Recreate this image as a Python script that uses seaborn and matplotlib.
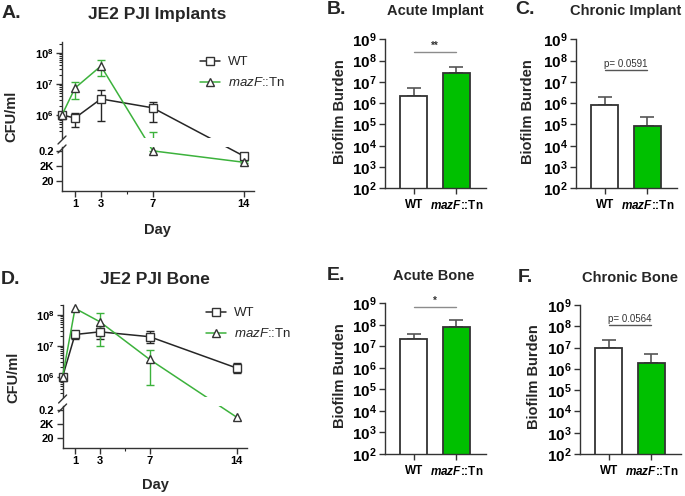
import numpy as np
import pandas as pd
import matplotlib
matplotlib.use("Agg")
import matplotlib.pyplot as plt
import seaborn as sns
from matplotlib.lines import Line2D
from matplotlib.transforms import Bbox, TransformedBbox

#values, CFU/ml
days = [0, 1, 3, 7, 14]
strains = ["WT", "mazF::Tn"]

implant_wt = [1.0e6, 8.0e5, 3.3e6, 1.7e6, 4.3e4]
implant_wt_low = [1.0e6, 4.0e5, 6.4e5, 6.0e5, 3.0e4]
implant_wt_high = [1.0e6, 1.15e6, 6.4e6, 2.6e6, 6.0e4]
implant_maz = [1.0e6, 7.4e6, 3.8e7, 2.0e5, 6.3e3]
implant_maz_low = [1.0e6, 3.3e6, 1.8e7, 2.0e5, 5.0e3]
implant_maz_high = [1.0e6, 1.15e7, 5.9e7, 2.9e5, 8.0e3]

bone_wt = [1.0e6, 2.3e7, 2.8e7, 1.95e7, 1.9e6]
bone_wt_low = [1.0e6, 1.6e7, 1.6e7, 1.2e7, 1.3e6]
bone_wt_high = [1.0e6, 2.8e7, 4.4e7, 2.9e7, 2.8e6]
bone_maz = [1.0e6, 1.6e8, 5.9e7, 3.6e6, 1.9e4]
bone_maz_low = [1.0e6, 1.6e8, 9.8e6, 5.4e5, 1.9e4]
bone_maz_high = [1.0e6, 1.6e8, 1.1e8, 7.2e6, 1.9e4]

#biofilm burden bars: mean and top of error bar
acute_implant = [2.2e6, 2.5e7]
acute_implant_err = [5.0e6, 5.1e7]
chronic_implant = [8.1e5, 8.7e4]
chronic_implant_err = [1.85e6, 2.3e5]
acute_bone = [2.2e7, 8.3e7]
acute_bone_err = [3.7e7, 1.6e8]
chronic_bone = [9.8e6, 1.9e6]
chronic_bone_err = [2.2e7, 4.9e6]

sns.set_theme(style="ticks")
plt.rcParams["font.family"] = ["Liberation Sans", "DejaVu Sans"]
plt.rcParams["mathtext.fontset"] = "custom"
plt.rcParams["mathtext.rm"] = "Liberation Sans"
plt.rcParams["mathtext.bf"] = "Liberation Sans:bold"
plt.rcParams["mathtext.it"] = "Liberation Sans:italic"
plt.rcParams["mathtext.bfit"] = "Liberation Sans:italic:bold"
plt.rcParams["axes.linewidth"] = 1.0
plt.rcParams["axes.edgecolor"] = "#333333"

black = "#262626"
green = "#3cb23c"
bar_green = "#00c000"
W, H = 685, 496

fig = plt.figure(figsize=(W / 100, H / 100), dpi=100)

def fx(x):
    return x / W

def fy(y):
    return 1 - y / H

def box(left, top, right, bottom):
    return [left / W, 1 - bottom / H, (right - left) / W, (bottom - top) / H]

def sup(e):
    return r"$\mathbf{10^{%d}}$" % e

#piecewise log scale so both halves of the broken axis line up like graphpad
def broken_log(knots):
    lv = np.array([k[0] for k in knots], float)
    sv = np.array([k[1] for k in knots], float)
    def fwd(v):
        v = np.asarray(v, float)
        return np.interp(np.log10(np.clip(v, 1e-6, None)), lv, sv)
    def inv(s):
        return 10 ** np.interp(np.asarray(s, float), sv, lv)
    return fwd, inv

def break_mark(x, y):
    fig.add_artist(Line2D([fx(x - 4), fx(x + 4)], [fy(y + 4), fy(y - 4)],
                          transform=fig.transFigure, color="#333333", lw=1))

def timecourse(lay, knots, wt, wt_lo, wt_hi, maz, maz_lo, maz_hi):
    left, right, top, ub, lt, bottom = lay
    fwd, inv = broken_log(knots)
    ax_up = fig.add_axes(box(left, top, right, ub))
    ax_lo = fig.add_axes(box(left, lt, right, bottom))
    df = pd.DataFrame({"day": days * 2, "cfu": wt + maz,
                       "strain": ["WT"] * len(days) + ["mazF::Tn"] * len(days)})
    for ax, lims, ext in [(ax_up, (inv(-ub), inv(-top)), 1.08), (ax_lo, (inv(-bottom), inv(-lt)), 1.0)]:
        for vals, lo, hi, col in [(wt, wt_lo, wt_hi, black), (maz, maz_lo, maz_hi, green)]:
            vals, lo, hi = np.array(vals), np.array(lo), np.array(hi)
            m = hi > lo
            ax.errorbar(np.array(days)[m], vals[m], yerr=[vals[m] - lo[m], hi[m] - vals[m]],
                        fmt="none", ecolor=col, elinewidth=1, capsize=3, capthick=1, zorder=2)
        sns.lineplot(data=df, x="day", y="cfu", hue="strain", style="strain", markers=["s", "^"],
                     dashes=False, palette=[black, green], estimator=None, errorbar=None,
                     legend=False, markersize=6, markerfacecolor="white", markeredgecolor="#333333",
                     markeredgewidth=1, linewidth=1.1, ax=ax, zorder=3)
        ax.set_yscale("function", functions=(fwd, inv))
        ax.set_ylim(*lims)
        ax.set_xlim(0, 14.8)
        clip = TransformedBbox(Bbox([[-0.06, 0], [1.06, ext]]), ax.transAxes)
        for art in ax.lines + ax.collections:
            art.set_clip_path(None)
            art.set_clip_box(clip)
        ax.set_xlabel("")
        ax.set_ylabel("")
        ax.spines[["top", "right"]].set_visible(False)
        ax.tick_params(labelsize=8, length=4, width=1, pad=2, colors="#333333", labelcolor="black")
        ax.tick_params(which="minor", length=2, width=0.8)
    ax_up.spines["bottom"].set_visible(False)
    ax_up.set_xticks([])
    ax_up.set_yticks([1e6, 1e7, 1e8], labels=[sup(6), sup(7), sup(8)])
    lo_lim, hi_lim = ax_up.get_ylim()
    ax_up.set_yticks([k * 10 ** e for e in range(5, 9) for k in range(2, 10)
                      if lo_lim < k * 10 ** e < hi_lim], minor=True)
    ax_lo.set_yticks([20, 2e3, 2e5], labels=["20", "2K", "0.2"])
    ax_lo.set_xticks([1, 3, 7, 14], labels=["1", "3", "7", "14"])
    ax_lo.set_xticks([5], minor=True)
    for lab in ax_lo.get_xticklabels() + ax_lo.get_yticklabels():
        lab.set_fontweight("bold")
    break_mark(left, ub + 2)
    break_mark(left, lt + 2)
    return ax_up, ax_lo

def bar_panel(lay, vals, errs, note, note_y, stars):
    ax = fig.add_axes(box(*lay))
    df = pd.DataFrame({"strain": strains, "cfu": vals})
    sns.barplot(data=df, x="strain", y="cfu", hue="strain", palette=["white", bar_green], saturation=1,
                edgecolor="#333333", linewidth=1.3, width=0.63, legend=False, ax=ax, zorder=2)
    ax.errorbar([0, 1], vals, yerr=[np.zeros(2), np.array(errs) - np.array(vals)], fmt="none",
                ecolor="#555555", elinewidth=1.2, capsize=5, capthick=1.2, zorder=1)
    ax.set_yscale("log")
    ax.set_ylim(1e2, 1e9)
    ax.set_xlim(-0.68, 1.7)
    ax.set_yticks([10 ** e for e in range(2, 10)], labels=[sup(e) for e in range(2, 10)])
    ax.minorticks_off()
    ax.set_xticks([0, 1], labels=["WT", r"$\mathbfit{mazF}$::Tn"])
    for lab in ax.get_xticklabels():
        lab.set_fontweight("bold")
    ax.tick_params(axis="y", labelsize=11, length=4, width=1, pad=2, colors="#333333", labelcolor="black")
    ax.tick_params(axis="x", labelsize=8.5, length=4, width=1, pad=4, colors="#333333", labelcolor="black")
    ax.set_xlabel("")
    ax.set_ylabel("")
    ax.spines[["top", "right"]].set_visible(False)
    ax.plot([0, 1], [note_y, note_y], color="#8c8c8c" if stars else "#555555", lw=1, zorder=3)
    if stars:
        ax.text(0.5, note_y * 1.15, note, ha="center", va="bottom", fontsize=7, fontweight="bold", color="#333333")
    else:
        ax.text(0.5, note_y * 1.12, note, ha="center", va="bottom", fontsize=7, color="#333333")
    return ax

timecourse((62, 254, 42, 138, 147, 191),
           [(-3, -213.25), (5.3, -151), (5.45, -132.05), (10, 9)],
           implant_wt, implant_wt_low, implant_wt_high, implant_maz, implant_maz_low, implant_maz_high)
timecourse((62.6, 246.7, 305, 397, 406, 448),
           [(-3, -468.9), (5.3, -410), (5.4, -395.3), (10, -252.7)],
           bone_wt, bone_wt_low, bone_wt_high, bone_maz, bone_maz_low, bone_maz_high)

bar_panel((385, 39.3, 486, 188.3), acute_implant, acute_implant_err, "**", 2.6e8, True)
bar_panel((576, 39.3, 677, 188.3), chronic_implant, chronic_implant_err, "p= 0.0591", 3.6e7, False)
bar_panel((385, 303.3, 486, 454), acute_bone, acute_bone_err, "*", 6.6e8, True)
bar_panel((580, 305, 681, 454), chronic_bone, chronic_bone_err, "p= 0.0564", 1.15e8, False)

#legends
for lx, ly in [(200, 56), (206, 307)]:
    handles = [Line2D([], [], color=black, marker="s", ms=6, mfc="white", mec="#333333", lw=1.1),
               Line2D([], [], color=green, marker="^", ms=6, mfc="white", mec="#333333", lw=1.1)]
    fig.legend(handles, ["WT", r"$\mathit{mazF}$::Tn"], loc="upper left", bbox_to_anchor=(fx(lx), fy(ly)),
               frameon=False, fontsize=9.5, handlelength=1.5, handletextpad=0.6, labelspacing=0.6,
               borderaxespad=0, borderpad=0)

#titles, letters, axis labels
for x, y, s in [(11, 14, "A."), (336, 10, "B."), (525, 10, "C."), (11, 279, "D."), (336, 276, "E."), (525, 278, "F.")]:
    fig.text(fx(x), fy(y), s, ha="center", va="center", fontsize=14, fontweight="bold")
for x, y, s, fs in [(157, 14, "JE2 PJI Implants", 12.5), (155, 279, "JE2 PJI Bone", 12.5),
                    (435, 11, "Acute Implant", 10.5), (626, 11, "Chronic Implant", 10.5),
                    (434, 276, "Acute Bone", 10.5), (630, 278, "Chronic Bone", 10.5)]:
    fig.text(fx(x), fy(y), s, ha="center", va="center", fontsize=fs, fontweight="bold")
for x, y, s in [(11, 116, "CFU/ml"), (13, 377, "CFU/ml"), (340, 112, "Biofilm Burden"),
                (528, 112, "Biofilm Burden"), (340, 376, "Biofilm Burden"), (534, 377, "Biofilm Burden")]:
    fig.text(fx(x), fy(y), s, ha="center", va="center", rotation=90, fontsize=10.5, fontweight="bold")
fig.text(fx(157), fy(230), "Day", ha="center", va="center", fontsize=10.5, fontweight="bold")
fig.text(fx(155), fy(485), "Day", ha="center", va="center", fontsize=10.5, fontweight="bold")

fig.savefig("out.png", dpi=100)
